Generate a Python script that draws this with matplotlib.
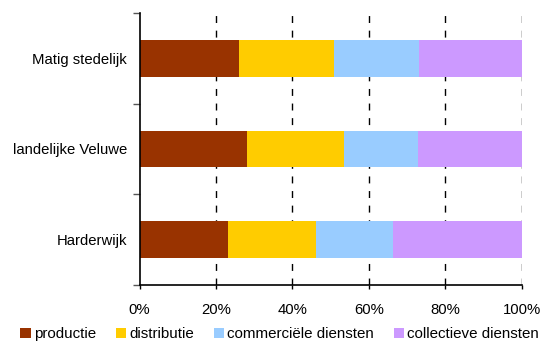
import matplotlib
matplotlib.use("Agg")
import matplotlib.pyplot as plt
import numpy as np

plt.rcParams['font.family'] = ['Liberation Sans', 'DejaVu Sans']

regions = ["Matig stedelijk", "landelijke Veluwe", "Harderwijk"]
series = ["productie", "distributie", "commerciële diensten", "collectieve diensten"]
productie = [26.0, 28.1, 23.1]
distributie = [24.8, 25.3, 23.0]
commercieel = [22.3, 19.5, 20.2]
collectief = [26.9, 27.1, 33.7]
colors = ["#993300", "#FFCC00", "#99CCFF", "#CC99FF"]
x_ticks = [0, 20, 40, 60, 80, 100]
x_labels = ["0%", "20%", "40%", "60%", "80%", "100%"]

values = [productie, distributie, commercieel, collectief]

fig = plt.figure(figsize=(5.42, 3.42), dpi=100)
ax = fig.add_axes([0.2574, 0.1667, 0.7052, 0.7953])

ypos = np.arange(len(regions))
left = np.zeros(len(regions))
for name, vals, col in zip(series, values, colors):
    ax.barh(ypos, vals, left=left, height=0.405, color=col, label=name, zorder=3)
    left += np.array(vals)

ax.set_xlim(0, 100)
ax.set_ylim(2.5, -0.5)

for xv in x_ticks[1:]:
    ax.axvline(xv, color="black", lw=1.0, dashes=(5, 5.5), zorder=1)

fs = 10.7
ax.set_xticks(x_ticks)
ax.set_xticklabels(x_labels, fontsize=fs)
ax.set_yticks(ypos)
ax.set_yticklabels(regions, fontsize=fs)
ax.tick_params(axis="y", length=0, pad=9)
ax.set_yticks([-0.5, 0.5, 1.5, 2.5], minor=True)
ax.tick_params(axis="y", which="minor", length=5, width=1, direction="out", color="#555555")
ax.tick_params(axis="x", length=3, width=1, direction="out", pad=10)

for s in ["top", "right"]:
    ax.spines[s].set_visible(False)
for s in ["left", "bottom"]:
    ax.spines[s].set_linewidth(1.2)
    ax.spines[s].set_zorder(4)

leg = fig.legend(loc="lower center", bbox_to_anchor=(0.516, -0.025), ncol=4, frameon=False,
                 fontsize=10.9, handlelength=0.7, handleheight=0.7, handletextpad=0.2,
                 columnspacing=1.3, borderaxespad=0.2)

fig.savefig("out.png", dpi=100, facecolor="white")
